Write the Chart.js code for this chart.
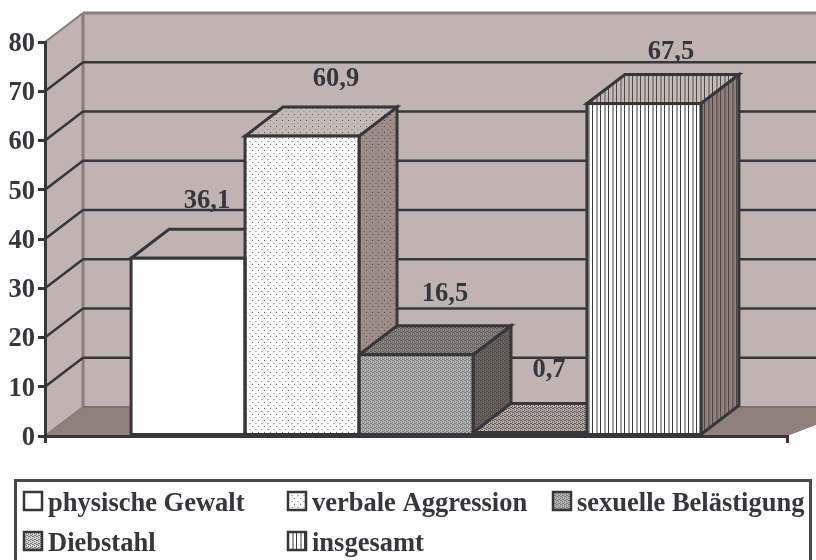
<!DOCTYPE html>
<html>
<head>
<meta charset="utf-8">
<style>
  html, body { margin: 0; padding: 0; background: #fff; }
  canvas { display: block; }
</style>
<script src="https://cdn.jsdelivr.net/npm/chart.js@4"></script>
</head>
<body>
<canvas id="myChart" width="816" height="560"></canvas>
<script>
// data
const categories = [''];
const seriesNames = ['physische Gewalt', 'verbale Aggression', 'sexuelle Belästigung', 'Diebstahl', 'insgesamt'];
const seriesValues = [36.1, 60.9, 16.5, 0.7, 67.5];
const yTicks = [0, 10, 20, 30, 40, 50, 60, 70, 80];

// colors and 3D look
const dark = '#36363b';
const wallColor = '#bfb4b1';
const wallEdge = '#8b7c78';
const floorColor = '#8f807c';
const depthX = 38;
const depthY = 29;
const textFont = 'bold 26.5px "Liberation Serif"';

// tiny repeating tile, rects = [x, y, w, h, color]
function tile(w, h, bg, rects) {
    const c = document.createElement('canvas');
    c.width = w;
    c.height = h;
    const g = c.getContext('2d');
    g.fillStyle = bg;
    g.fillRect(0, 0, w, h);
    rects.forEach(r => {
        g.fillStyle = r[4];
        g.fillRect(r[0], r[1], r[2], r[3]);
    });
    return g.createPattern(c, 'repeat');
}

function dots(bg, a, b) {
    return tile(6, 6, bg, [[0, 0, 1, 1, a], [3, 3, 2, 1, b]]);
}
function weave(bg, a) {
    return tile(4, 4, bg, [[0, 0, 2, 1, a], [2, 1, 1, 1, a], [0, 2, 1, 1, a], [2, 3, 2, 1, a]]);
}
function stripes(bg, a, b) {
    return tile(8, 1, bg, [[0, 0, 1, 1, a], [4, 0, 2, 1, b]]);
}

const frontFill = [
    '#ffffff',
    dots('#ffffff', '#6e6e6e', '#b5b5b5'),
    weave('#b4b4b4', '#7b7b7b'),
    weave('#d4d4d4', '#777777'),
    stripes('#ffffff', '#3c3c40', '#a0a0a0')
];
const topFill = [
    wallColor,
    dots('#c3b9b6', '#5a5553', '#a89d99'),
    weave('#8a8582', '#5f5a58'),
    weave('#b8aeaa', '#5e5552'),
    stripes('#c4bab7', '#4c4848', '#8f8580')
];
const sideFill = [
    '#9a8a85',
    dots('#9c8d88', '#4c4442', '#7d706c'),
    weave('#6c6562', '#4c4644'),
    weave('#6c6562', '#4c4644'),
    stripes('#8f807b', '#4c4442', '#6e625e')
];
// where each value label sits, relative to the back of the bar top
const labelShift = [[0, -28], [15, -28], [10, -32], [0, -33], [8, -22]];
// legend cells
const legendCols = [24, 288, 553];
const legendRows = [501, 541];

function poly(ctx, pts, fill, stroke, lw) {
    ctx.beginPath();
    pts.forEach((p, i) => i ? ctx.lineTo(p[0], p[1]) : ctx.moveTo(p[0], p[1]));
    ctx.closePath();
    if (fill) {
        ctx.fillStyle = fill;
        ctx.fill();
    }
    if (stroke) {
        ctx.strokeStyle = stroke;
        ctx.lineWidth = lw;
        ctx.lineJoin = 'miter';
        ctx.stroke();
    }
}

function line(ctx, x1, y1, x2, y2, color, lw) {
    ctx.beginPath();
    ctx.moveTo(x1, y1);
    ctx.lineTo(x2, y2);
    ctx.strokeStyle = color;
    ctx.lineWidth = lw;
    ctx.stroke();
}

// walls, floor and grid lines
const wallsPlugin = {
    id: 'walls',
    beforeDraw(chart) {
        const ctx = chart.ctx;
        const a = chart.chartArea;
        const y = chart.scales.y;
        const farRight = chart.width + 10;
        // serif digits sit a little low of the middle line
        y.getLabelItems().forEach(item => { item.textOffset = 2; });
        ctx.save();
        poly(ctx, [[a.left, a.top], [a.left + depthX, a.top - depthY], [farRight, a.top - depthY],
            [farRight, a.bottom - depthY], [a.left + depthX, a.bottom - depthY], [a.left, a.bottom]], wallColor);
        poly(ctx, [[a.left, a.bottom], [a.left + depthX, a.bottom - depthY], [farRight + depthX, a.bottom - depthY],
            [a.right, a.bottom]], floorColor);
        // wall edges
        line(ctx, a.left, a.top, a.left + depthX, a.top - depthY, wallEdge, 2);
        line(ctx, a.left + depthX, a.top - depthY, farRight, a.top - depthY, wallEdge, 3);
        line(ctx, a.left + depthX, a.top - depthY, a.left + depthX, a.bottom - depthY, wallEdge, 3);
        line(ctx, a.left + depthX, a.bottom - depthY, farRight, a.bottom - depthY, '#7d6f6b', 2);
        line(ctx, a.left, a.bottom, a.left + depthX, a.bottom - depthY, wallEdge, 2);
        yTicks.slice(1, -1).forEach(v => {
            const py = y.getPixelForValue(v);
            line(ctx, a.left, py, a.left + depthX, py - depthY, dark, 2.5);
            line(ctx, a.left + depthX, py - depthY, farRight, py - depthY, dark, 2.5);
        });
        ctx.restore();
    },
    // top and side of every bar, left to right, the fronts come after from Chart.js
    beforeDatasetsDraw(chart) {
        const ctx = chart.ctx;
        ctx.save();
        seriesValues.forEach((v, i) => {
            const bar = chart.getDatasetMeta(i).data[0];
            const l = bar.x - bar.width / 2;
            const r = bar.x + bar.width / 2;
            const t = bar.y;
            const b = bar.base;
            poly(ctx, [[r, t], [r + depthX, t - depthY], [r + depthX, b - depthY], [r, b]], sideFill[i], dark, 3);
            poly(ctx, [[l, t], [l + depthX, t - depthY], [r + depthX, t - depthY], [r, t]], topFill[i], dark, 3);
        });
        ctx.restore();
    },
    // chart.js insets bar borders, these outlines sit centred on the bar edge
    afterDatasetsDraw(chart) {
        const ctx = chart.ctx;
        ctx.save();
        ctx.strokeStyle = dark;
        ctx.lineWidth = 3;
        seriesValues.forEach((v, i) => {
            const bar = chart.getDatasetMeta(i).data[0];
            ctx.strokeRect(bar.x - bar.width / 2, bar.y, bar.width, bar.base - bar.y);
        });
        ctx.restore();
    },
    afterDraw(chart) {
        const ctx = chart.ctx;
        ctx.save();
        // value labels
        ctx.font = textFont;
        ctx.fillStyle = dark;
        ctx.textAlign = 'center';
        ctx.textBaseline = 'middle';
        seriesValues.forEach((v, i) => {
            const bar = chart.getDatasetMeta(i).data[0];
            const txt = v.toFixed(1).replace('.', ',');
            ctx.fillText(txt, bar.x + depthX / 2 + labelShift[i][0], bar.y - depthY + labelShift[i][1]);
        });
        // legend box, its bottom edge is cut off by the picture
        ctx.strokeStyle = '#4a4a4e';
        ctx.lineWidth = 3;
        ctx.strokeRect(15.5, 480.5, 795, 100);
        ctx.textAlign = 'left';
        seriesNames.forEach((name, i) => {
            const x = legendCols[i % 3];
            const y = legendRows[Math.floor(i / 3)];
            ctx.fillStyle = frontFill[i];
            ctx.fillRect(x, y - 9, 18, 18);
            ctx.strokeStyle = dark;
            ctx.lineWidth = 2.5;
            ctx.strokeRect(x, y - 9, 18, 18);
            ctx.fillStyle = dark;
            ctx.fillText(name, x + 24, y + 3);
        });
        ctx.restore();
    }
};

const myChart = new Chart(document.getElementById('myChart').getContext('2d'), {
    type: 'bar',
    data: {
        labels: categories,
        datasets: seriesNames.map((name, i) => ({
            label: name,
            data: [seriesValues[i]],
            backgroundColor: frontFill[i],
            borderWidth: 0,
            barPercentage: 1,
            categoryPercentage: 0.768
        }))
    },
    options: {
        responsive: false,
        animation: false,
        layout: { padding: { top: 42, right: 29, left: 0, bottom: 0 } },
        plugins: {
            legend: { display: false },
            tooltip: { enabled: false }
        },
        scales: {
            x: {
                ticks: { display: false },
                grid: { offset: true, drawOnChartArea: false, drawTicks: true, tickLength: 7, color: dark, lineWidth: 3 },
                border: { color: dark, width: 3 },
                afterFit(scale) { scale.height = 124; }
            },
            y: {
                min: 0,
                max: 80,
                ticks: { stepSize: 10, padding: 3, color: dark, font: { family: 'Liberation Serif', size: 26.5, weight: 'bold' } },
                grid: { drawOnChartArea: false, drawTicks: true, tickLength: 7, color: dark, lineWidth: 3 },
                border: { color: dark, width: 3 },
                afterFit(scale) { scale.width = 45; }
            }
        }
    },
    plugins: [wallsPlugin]
});
</script>
</body>
</html>
